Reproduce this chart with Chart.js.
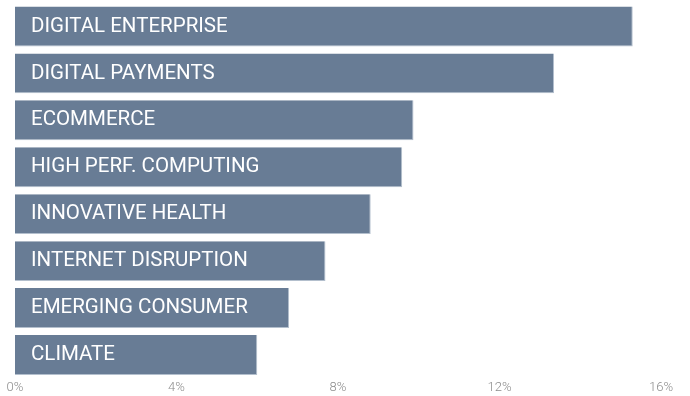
<!DOCTYPE html>
<html>
<head>
<meta charset="utf-8">
<script src="https://cdn.jsdelivr.net/npm/chart.js@4"></script>
<style>
  html, body { margin: 0; padding: 0; background: #fff; }
  #wrap { width: 690px; height: 396px; }
</style>
</head>
<body>
<div id="wrap"><canvas id="themesChart"></canvas></div>
<script>
// Theme weights, largest first
const themes = [
  "DIGITAL ENTERPRISE",
  "DIGITAL PAYMENTS",
  "ECOMMERCE",
  "HIGH PERF. COMPUTING",
  "INNOVATIVE HEALTH",
  "INTERNET DISRUPTION",
  "EMERGING CONSUMER",
  "CLIMATE",
];
const weights = [15.3, 13.35, 9.87, 9.59, 8.81, 7.69, 6.79, 6.0];
const xTicks = [0, 4, 8, 12, 16];

// Category names written inside each bar, near its base
const insideLabels = {
  id: "insideLabels",
  afterDatasetsDraw(chart) {
    const { ctx, chartArea, scales } = chart;
    ctx.save();
    ctx.fillStyle = "#ffffff";
    ctx.font = "20.5px Roboto";
    ctx.textAlign = "left";
    ctx.textBaseline = "middle";
    chart.data.labels.forEach((label, i) => {
      ctx.fillText(label, chartArea.left + 16, scales.y.getPixelForValue(i));
    });
    ctx.restore();
  },
};

const ctx = document.getElementById("themesChart").getContext("2d");

new Chart(ctx, {
  type: "bar",
  data: {
    labels: themes,
    datasets: [
      {
        data: weights,
        backgroundColor: "#687c95",
        borderColor: "#b3bfcd",
        borderWidth: { top: 0, left: 0, right: 1, bottom: 1 },
        borderSkipped: false,
        categoryPercentage: 0.85,
        barPercentage: 1,
      },
    ],
  },
  options: {
    indexAxis: "y",
    responsive: true,
    maintainAspectRatio: false,
    animation: false,
    layout: { padding: { left: 15, right: 29, top: 3, bottom: -2 } },
    plugins: {
      legend: { display: false },
      tooltip: { enabled: false },
    },
    scales: {
      x: {
        min: 0,
        max: 16,
        grid: { display: false, drawTicks: false },
        border: { display: false },
        afterBuildTicks: (axis) => {
          axis.ticks = xTicks.map((v) => ({ value: v }));
        },
        ticks: {
          padding: 2,
          color: "#8c8c8c",
          font: { family: "Roboto", size: 13, weight: 300 },
          callback: (value) => value + "%",
        },
      },
      y: {
        display: false,
      },
    },
  },
  plugins: [insideLabels],
});
</script>
</body>
</html>
